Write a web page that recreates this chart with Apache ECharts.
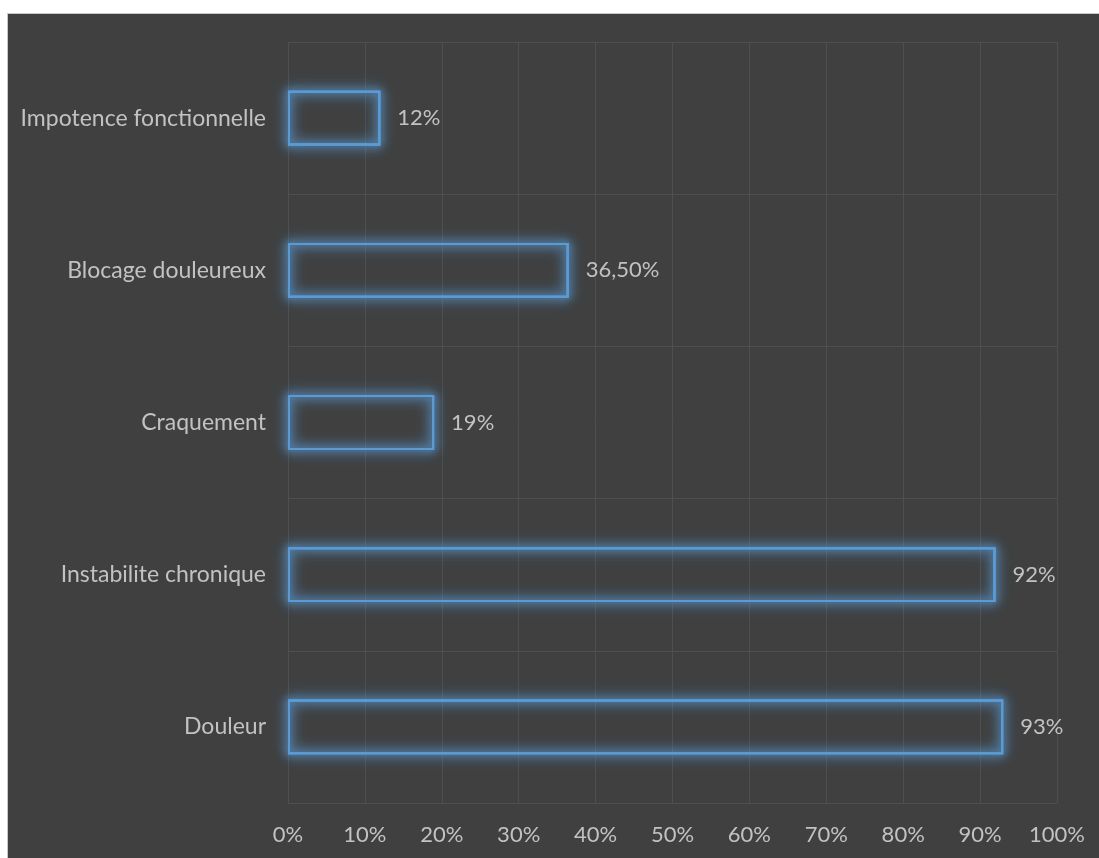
<!DOCTYPE html>
<html>
<head>
<meta charset="utf-8">
<script src="https://cdn.jsdelivr.net/npm/echarts@6/dist/echarts.min.js"></script>
<style>
  html, body { margin: 0; padding: 0; background: #ffffff; }
  #frame {
    position: absolute; left: 7px; top: 13px; width: 1092px; height: 845px;
    background: #404040; border-left: 1px solid #c8c8c8; border-top: 1px solid #c8c8c8;
    box-sizing: border-box;
  }
  #chart { position: absolute; left: 0; top: 0; width: 1099px; height: 858px; }
</style>
</head>
<body>
<div id="frame"></div>
<div id="chart"></div>
<script>
// Symptoms, listed from the bottom row to the top row
const categories = ['Douleur', 'Instabilite chronique', 'Craquement', 'Blocage douleureux', 'Impotence fonctionnelle'];
const percentages = [93, 92, 19, 36.5, 12];
const tickValues = [0, 10, 20, 30, 40, 50, 60, 70, 80, 90, 100];

const fontFamily = 'Lato, "Open Sans", sans-serif';
const textColor = '#c2c2c2';
const gridColor = '#4f4f4f';
const barBlue = '#5b9bd5';

function pct(v) {
  return Number.isInteger(v) ? v + '%' : v.toFixed(2).replace('.', ',') + '%';
}

// Outlined bar; stacking a few identical outlines builds up the blurred glow
function outlineSeries(blur, withLabel) {
  return {
    type: 'bar',
    data: percentages,
    barWidth: '36%',
    barGap: '-100%',
    silent: !withLabel,
    itemStyle: {
      color: 'rgba(0,0,0,0)',
      borderColor: barBlue,
      borderWidth: 2,
      shadowBlur: blur,
      shadowColor: barBlue
    },
    label: {
      show: withLabel,
      position: 'right',
      distance: 17,
      color: textColor,
      fontFamily: fontFamily,
      fontSize: 22,
      formatter: p => pct(p.value)
    }
  };
}

const chart = echarts.init(document.getElementById('chart'), null, { renderer: 'canvas' });
chart.setOption({
  backgroundColor: 'transparent',
  animation: false,
  grid: { left: 288, right: 42, top: 42, bottom: 55, containLabel: false },
  xAxis: {
    type: 'value',
    min: tickValues[0],
    max: tickValues[tickValues.length - 1],
    interval: 10,
    axisLine: { show: true, lineStyle: { color: gridColor, width: 1 } },
    axisTick: { show: false },
    splitLine: { show: true, lineStyle: { color: gridColor, width: 1 } },
    axisLabel: {
      margin: 21,
      color: textColor,
      fontFamily: fontFamily,
      fontSize: 22,
      formatter: v => v + '%'
    }
  },
  yAxis: {
    type: 'category',
    data: categories,
    axisLine: { show: false },
    axisTick: { show: false },
    splitLine: { show: true, lineStyle: { color: gridColor, width: 1 } },
    axisLabel: {
      margin: 22,
      color: textColor,
      fontFamily: fontFamily,
      fontSize: 23
    }
  },
  series: [
    outlineSeries(16, false),
    outlineSeries(14, false),
    outlineSeries(12, false),
    outlineSeries(6, true)
  ]
});
</script>
</body>
</html>
